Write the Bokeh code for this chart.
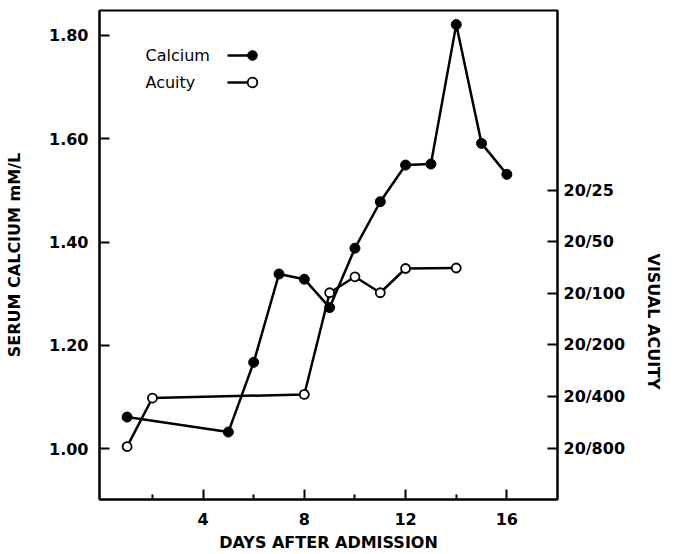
import math
from bokeh.plotting import figure
from bokeh.models import (Range1d, LinearAxis, FixedTicker, Legend, LegendItem,
                          Label, Title, NumeralTickFormatter)
from bokeh.embed import file_html
from bokeh.resources import INLINE

# ---- data ----
days_calcium = [1, 5, 6, 7, 8, 9, 10, 11, 12, 13, 14, 15, 16]
calcium_mmol = [1.061, 1.032, 1.167, 1.338, 1.328, 1.273, 1.388, 1.478, 1.549, 1.551, 1.821, 1.591, 1.531]

days_acuity = [1, 2, 8, 9, 10, 11, 12, 14]
# acuity position on the right scale: 0 = 20/800, 1 = 20/400, ... 5 = 20/25
acuity_level = [0.03, 0.97, 1.04, 3.01, 3.32, 3.01, 3.48, 3.49]

acuity_ticks = [0, 1, 2, 3, 4, 5]
acuity_labels = ["20/800", "20/400", "20/200", "20/100", "20/50", "20/25"]
calcium_ticks = [1.0, 1.2, 1.4, 1.6, 1.8]
day_ticks = [4, 8, 12, 16]
day_minor_ticks = [2, 6, 10, 14]
series_names = ["Calcium", "Acuity"]

FONT = "DejaVu Sans"
W, H = 676, 554

p = figure(width=W, height=H, output_backend="svg", toolbar_location=None,
           x_range=Range1d(-0.09, 18.0), y_range=Range1d(0.9014, 1.8483),
           min_border_left=99, min_border_right=117, min_border_top=10, min_border_bottom=54)
p.extra_y_ranges = {"acuity": Range1d(-0.996, 8.48)}
p.grid.visible = False
p.outline_line_color = "black"
p.outline_line_width = 2
p.background_fill_color = "white"
p.border_fill_color = "white"

def style_axis(ax, standoff):
    ax.axis_line_width = 2
    ax.axis_line_color = "black"
    ax.major_tick_in = 10
    ax.major_tick_out = 0
    ax.major_tick_line_width = 2
    ax.major_tick_line_color = "black"
    ax.major_label_text_font = FONT
    ax.major_label_text_font_style = "bold"
    ax.major_label_text_font_size = "16px"
    ax.major_label_text_color = "black"
    ax.major_label_standoff = standoff
    ax.axis_label_text_font = FONT
    ax.axis_label_text_font_style = "bold"
    ax.axis_label_text_font_size = "16px"
    ax.axis_label_text_color = "black"

xa = p.xaxis[0]
xa.ticker = FixedTicker(ticks=day_ticks, minor_ticks=day_minor_ticks)
style_axis(xa, 13)
xa.minor_tick_in = 5
xa.minor_tick_out = 0
xa.minor_tick_line_width = 2
xa.minor_tick_line_color = "black"
xa.axis_label = "DAYS AFTER ADMISSION"
xa.axis_label_standoff = 5

ya = p.yaxis[0]
ya.ticker = FixedTicker(ticks=calcium_ticks)
ya.formatter = NumeralTickFormatter(format="0.00")
style_axis(ya, 11)
ya.minor_tick_line_color = None
ya.axis_label = "SERUM CALCIUM mM/L"
ya.axis_label_standoff = 22

ra = LinearAxis(y_range_name="acuity", ticker=FixedTicker(ticks=acuity_ticks),
                major_label_overrides={t: lab for t, lab in zip(acuity_ticks, acuity_labels)})
style_axis(ra, 6)
ra.minor_tick_line_color = None
p.add_layout(ra, "right")

r_title = Title(text="VISUAL ACUITY", align="left", offset=243, vertical_align="top",
                standoff=27, text_font=FONT, text_font_style="bold",
                text_font_size="16px", text_color="black")
p.add_layout(r_title, "right")

# ---- series ----
cl = p.line(days_calcium, calcium_mmol, line_color="black", line_width=2.5)
cs = p.scatter(days_calcium, calcium_mmol, size=10, marker="circle",
               fill_color="black", line_color="black")
al = p.line(days_acuity, acuity_level, y_range_name="acuity", line_color="black", line_width=2.5)
asc = p.scatter(days_acuity, acuity_level, y_range_name="acuity", size=9, marker="circle",
                fill_color="white", line_color="black", line_width=1.8)

# ---- legend: text on the left, sample (line ending in a marker) on the right ----
common = dict(orientation="vertical", glyph_height=24, label_height=24, spacing=3,
              padding=0, margin=0, label_standoff=0, border_line_color=None,
              background_fill_color=None, label_text_font_size="1px")
leg_lines = Legend(items=[LegendItem(label=" ", renderers=[cl]),
                          LegendItem(label=" ", renderers=[al])],
                   location=(128, 405), glyph_width=26, **common)
leg_marks = Legend(items=[LegendItem(label=" ", renderers=[cs]),
                          LegendItem(label=" ", renderers=[asc])],
                   location=(141, 405), glyph_width=24, **common)
p.add_layout(leg_lines)
p.add_layout(leg_marks)

for name, y in zip(series_names, [444, 417]):
    p.add_layout(Label(x=46, y=y, x_units="screen", y_units="screen", text=name,
                       text_align="left", text_baseline="middle", text_font=FONT,
                       text_font_size="16px", text_color="black"))

open("out.html", "w").write(file_html(p, INLINE))
